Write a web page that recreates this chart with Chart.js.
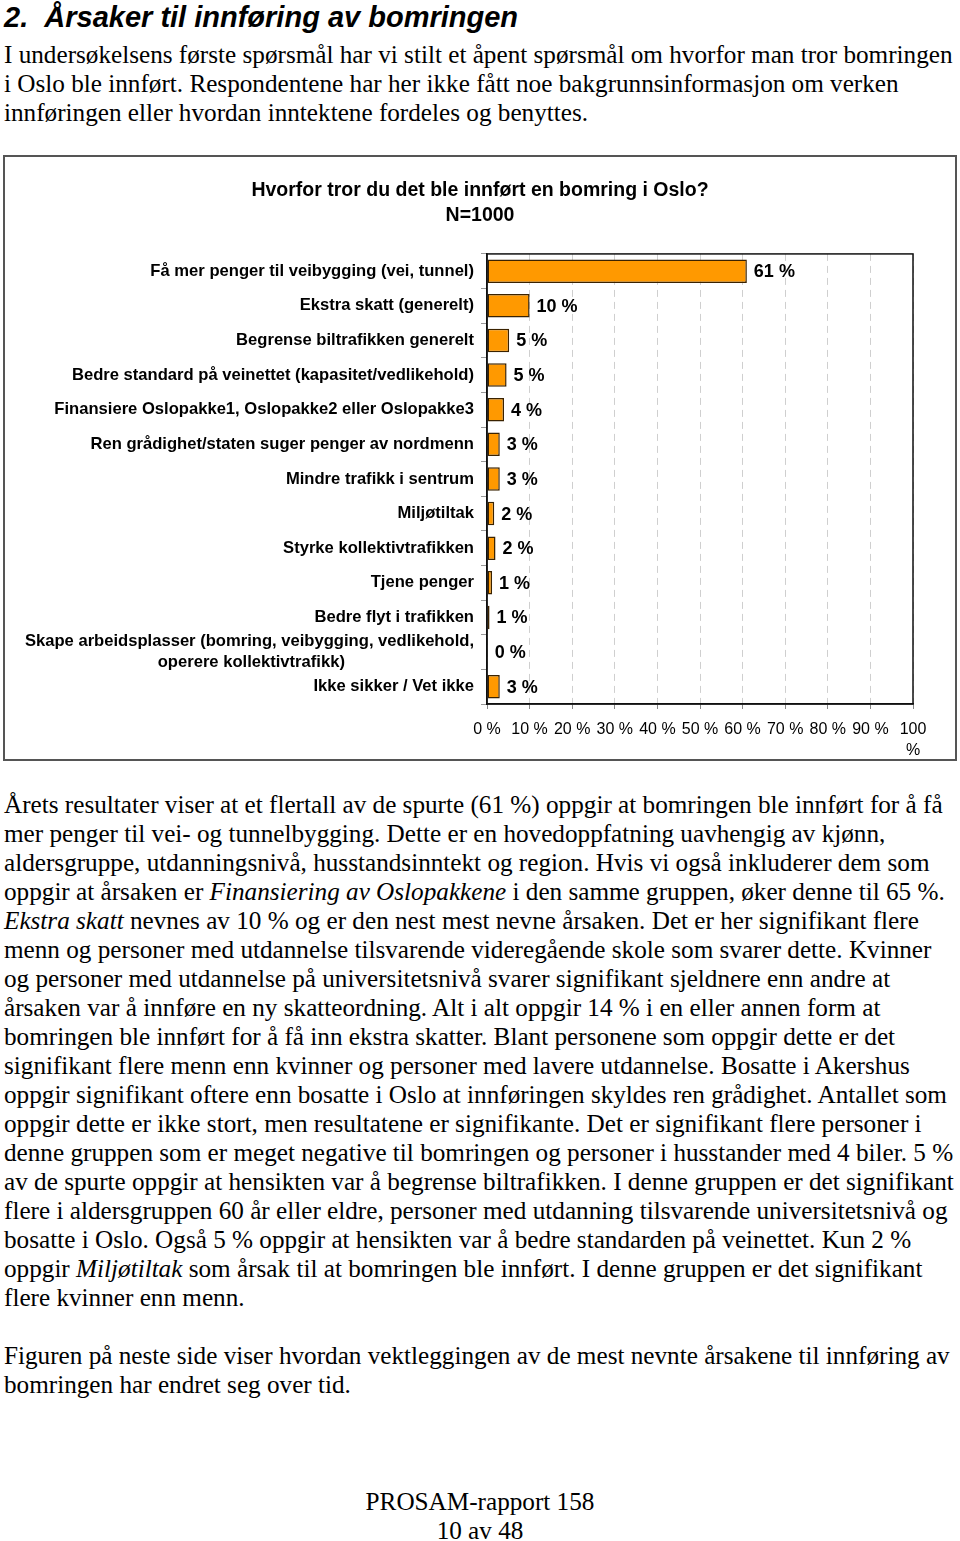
<!DOCTYPE html>
<html>
<head>
<meta charset="utf-8">
<script src="https://cdn.jsdelivr.net/npm/chart.js@4.4.1/dist/chart.umd.min.js"></script>
<style>
  html, body { margin: 0; padding: 0; background: #fff; }
  body { width: 960px; height: 1541px; position: relative; overflow: hidden; }
  .h1 { position: absolute; left: 4px; top: 1px; font: italic bold 29px "Liberation Sans", Arial, sans-serif; color: #000; white-space: nowrap; }
  .txt { position: absolute; left: 4px; font: 25.2px "Liberation Serif", "Times New Roman", serif; color: #000; line-height: 29px; white-space: nowrap; }
  .foot { position: absolute; left: 0; width: 960px; text-align: center; font: 25.2px "Liberation Serif", "Times New Roman", serif; line-height: 29px; }
  #box { position: absolute; left: 3px; top: 155px; width: 954px; height: 606px; border: 2px solid #555; box-sizing: border-box; }
  #box canvas { display: block; }
</style>
</head>
<body>
<div class="h1">2.&nbsp; Årsaker til innføring av bomringen</div>
<div class="txt" style="top:40px">
I undersøkelsens første spørsmål har vi stilt et åpent spørsmål om hvorfor man tror bomringen<br>
i Oslo ble innført. Respondentene har her ikke fått noe bakgrunnsinformasjon om verken<br>
innføringen eller hvordan inntektene fordeles og benyttes.
</div>
<div id="box"><canvas id="chart" width="950" height="602"></canvas></div>
<div class="txt" style="top:790px">
Årets resultater viser at et flertall av de spurte (61 %) oppgir at bomringen ble innført for å få<br>
mer penger til vei- og tunnelbygging. Dette er en hovedoppfatning uavhengig av kjønn,<br>
aldersgruppe, utdanningsnivå, husstandsinntekt og region. Hvis vi også inkluderer dem som<br>
oppgir at årsaken er <i>Finansiering av Oslopakkene</i> i den samme gruppen, øker denne til 65 %.<br>
<i>Ekstra skatt</i> nevnes av 10 % og er den nest mest nevne årsaken. Det er her signifikant flere<br>
menn og personer med utdannelse tilsvarende videregående skole som svarer dette. Kvinner<br>
og personer med utdannelse på universitetsnivå svarer signifikant sjeldnere enn andre at<br>
årsaken var å innføre en ny skatteordning. Alt i alt oppgir 14 % i en eller annen form at<br>
bomringen ble innført for å få inn ekstra skatter. Blant personene som oppgir dette er det<br>
signifikant flere menn enn kvinner og personer med lavere utdannelse. Bosatte i Akershus<br>
oppgir signifikant oftere enn bosatte i Oslo at innføringen skyldes ren grådighet. Antallet som<br>
oppgir dette er ikke stort, men resultatene er signifikante. Det er signifikant flere personer i<br>
denne gruppen som er meget negative til bomringen og personer i husstander med 4 biler. 5 %<br>
av de spurte oppgir at hensikten var å begrense biltrafikken. I denne gruppen er det signifikant<br>
flere i aldersgruppen 60 år eller eldre, personer med utdanning tilsvarende universitetsnivå og<br>
bosatte i Oslo. Også 5 % oppgir at hensikten var å bedre standarden på veinettet. Kun 2 %<br>
oppgir <i>Miljøtiltak</i> som årsak til at bomringen ble innført. I denne gruppen er det signifikant<br>
flere kvinner enn menn.
</div>
<div class="txt" style="top:1341px">
Figuren på neste side viser hvordan vektleggingen av de mest nevnte årsakene til innføring av<br>
bomringen har endret seg over tid.
</div>
<div class="foot" style="top:1487px">PROSAM-rapport 158<br>10 av 48</div>

<script>
// --- data ---
const categories = [
  'Få mer penger til veibygging (vei, tunnel)',
  'Ekstra skatt (generelt)',
  'Begrense biltrafikken generelt',
  'Bedre standard på veinettet (kapasitet/vedlikehold)',
  'Finansiere Oslopakke1, Oslopakke2 eller Oslopakke3',
  'Ren grådighet/staten suger penger av nordmenn',
  'Mindre trafikk i sentrum',
  'Miljøtiltak',
  'Styrke kollektivtrafikken',
  'Tjene penger',
  'Bedre flyt i trafikken',
  ['Skape arbeidsplasser (bomring, veibygging, vedlikehold,', 'operere kollektivtrafikk)'],
  'Ikke sikker / Vet ikke'
];
const shares = [61, 10, 5.2, 4.6, 4, 3, 3, 1.7, 2, 1.2, 0.6, 0.2, 3];
const xTicks = [0, 10, 20, 30, 40, 50, 60, 70, 80, 90, 100];

const SANS = '"Liberation Sans", Arial, sans-serif';
const Y_SIZE = 16.6;
const yFont = { family: SANS, size: Y_SIZE, weight: 'bold', lineHeight: 1.25 };

// centre the second line of a two-line label under the first (ticks are right-aligned)
function centreLines(label) {
  if (!Array.isArray(label)) return label;
  const c = document.createElement('canvas').getContext('2d');
  c.font = 'bold ' + Y_SIZE + 'px ' + SANS;
  const w0 = c.measureText(label[0]).width;
  const sp = c.measureText('\u00A0').width;
  return label.map(function(l) {
    const n = Math.round((w0 - c.measureText(l).width) / 2 / sp);
    return l + '\u00A0'.repeat(Math.max(0, n));
  });
}

const valueLabels = {
  id: 'valueLabels',
  afterDatasetsDraw(chart) {
    const ctx = chart.ctx;
    const meta = chart.getDatasetMeta(0);
    ctx.save();
    ctx.font = 'bold 18px ' + SANS;
    ctx.fillStyle = '#000';
    ctx.textAlign = 'left';
    ctx.textBaseline = 'middle';
    meta.data.forEach(function(bar, i) {
      ctx.fillText(Math.round(shares[i]) + ' %', bar.x + 7, bar.y + 1);
    });
    ctx.restore();
  }
};

const plotFrame = {
  id: 'plotFrame',
  afterDraw(chart) {
    const a = chart.chartArea;
    const ctx = chart.ctx;
    ctx.save();
    ctx.strokeStyle = '#111';
    ctx.lineWidth = 1.5;
    ctx.strokeRect(a.left, a.top, a.right - a.left, a.bottom - a.top);
    ctx.restore();
  }
};

new Chart(document.getElementById('chart'), {
  type: 'bar',
  data: {
    labels: categories.map(centreLines),
    datasets: [{
      data: shares,
      backgroundColor: '#FF9900',
      borderColor: '#3a2200',
      borderWidth: 1.5,
      borderSkipped: false,
      barPercentage: 0.68,
      categoryPercentage: 1
    }]
  },
  options: {
    indexAxis: 'y',
    responsive: false,
    animation: false,
    layout: { padding: 0 },
    plugins: {
      legend: { display: false },
      tooltip: { enabled: false },
      title: {
        display: true,
        text: ['Hvorfor tror du det ble innført en bomring i Oslo?', 'N=1000'],
        color: '#000',
        font: { family: SANS, size: 19.5, weight: 'bold', lineHeight: 1.28 },
        padding: { top: 21.5, bottom: 25.5 }
      }
    },
    scales: {
      x: {
        min: 0, max: 100,
        afterBuildTicks: function(s) { s.ticks = xTicks.map(function(v) { return { value: v }; }); },
        afterFit: function(s) { s.height = 55; },
        ticks: {
          color: '#000',
          padding: 10,
          maxRotation: 0,
          autoSkip: false,
          font: { family: SANS, size: 16, lineHeight: 1.3 },
          callback: function(v) { return v === 100 ? ['100', '%'] : v + ' %'; }
        },
        grid: { color: '#cfcfcf', lineWidth: 1, tickColor: '#888', tickLength: 5 },
        border: { color: '#111', width: 1.5, dash: [7, 5] }
      },
      y: {
        afterFit: function(s) { s.width = 482; },
        ticks: { color: '#000', padding: 7, autoSkip: false, font: yFont },
        grid: { drawOnChartArea: false, color: '#999', tickLength: 6 },
        border: { color: '#111', width: 1.5 }
      },
      // empty right-hand strip so the title stays centred on the whole box
      rightPad: {
        type: 'linear',
        position: 'right',
        display: true,
        afterFit: function(s) { s.width = 42; },
        ticks: { display: false },
        grid: { display: false },
        border: { display: false }
      }
    }
  },
  plugins: [valueLabels, plotFrame]
});
</script>
</body>
</html>
